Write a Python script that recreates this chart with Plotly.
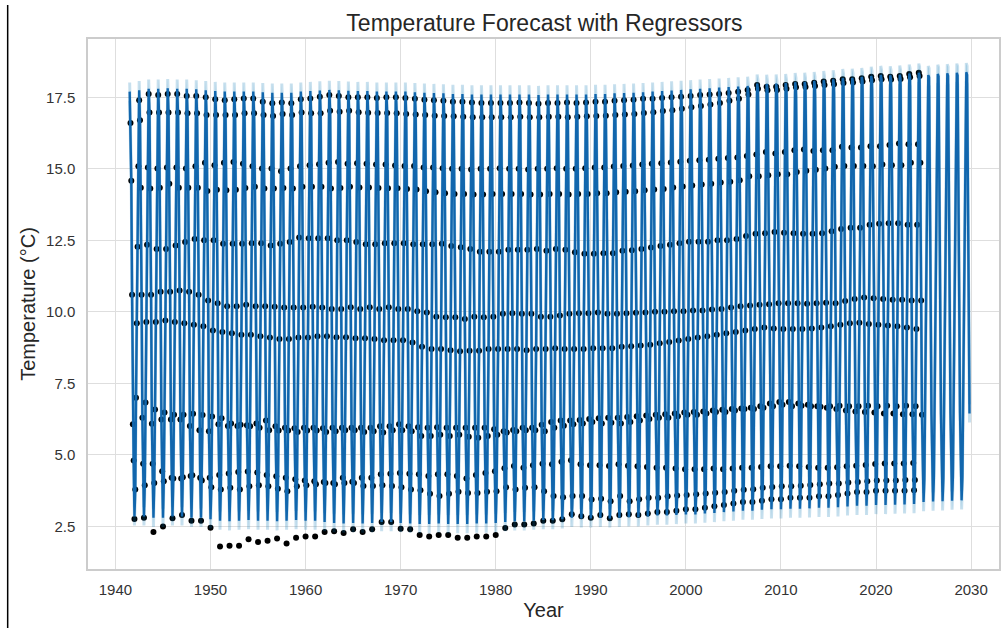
import plotly.graph_objects as go

# ---------------- data ----------------
years = list(range(1941, 2025))  # one entry per year, 1941 .. 2024

# observed monthly temperatures (degC), one value per year; None = no observation
jan = [None,
       2.76, 2.80, 2.30, 2.50, 2.78, 2.90, 2.70, 2.70, 2.45,
       1.80, 1.82, 1.82, 2.05, 1.95, 2.00, 2.08, 1.90, 2.10, 2.15,
       2.15, 2.30, 2.33, 2.27, 2.40, 2.30, 2.40, 2.65, 2.65, 2.42,
       2.40, 2.20, 2.15, 2.20, 2.20, 2.10, 2.10, 2.15, 2.15, 2.20,
       2.44, 2.57, 2.57, 2.60, 2.70, 2.70, 2.75, 2.92, 2.85, 2.80,
       2.90, 2.78, 2.90, 2.92, 2.90, 2.95, 3.00, 3.00, 3.05, 3.10,
       3.10, 3.15, 3.20, 3.25, 3.30, 3.35, 3.35, 3.40, 3.45, 3.45,
       3.50, 3.50, 3.50, 3.55, 3.55, 3.60, 3.65, 3.70, 3.70, 3.75,
       3.75, 3.75, 3.75, 3.76]
feb = [None,
       3.79, 3.94, 4.02, 4.08, 4.17, 4.22, 4.29, 4.10, 3.87,
       3.79, 3.85, 3.79, 3.90, 3.94, 3.90, 3.82, 3.73, 3.90, 3.94,
       3.97, 4.02, 3.97, 4.02, 4.02, 3.91, 3.91, 3.94, 3.91, 3.87,
       3.79, 3.76, 3.64, 3.56, 3.64, 3.71, 3.67, 3.67, 3.71, 3.73,
       3.87, 3.79, 3.85, 3.87, 3.73, 3.56, 3.52, 3.56, 3.56, 3.44,
       3.47, 3.38, 3.56, 3.38, 3.45, 3.50, 3.50, 3.55, 3.58, 3.60,
       3.62, 3.65, 3.68, 3.70, 3.75, 3.78, 3.80, 3.85, 3.88, 3.90,
       3.90, 3.92, 3.95, 3.97, 4.00, 4.00, 4.03, 4.05, 4.08, 4.10,
       4.10, 4.10, 4.12, 4.12]
mar = [None,
       7.00, 6.83, 6.59, 6.48, 6.40, 6.40, 6.44, 6.39, 6.34,
       6.28, 6.10, 6.05, 6.00, 5.95, 5.86, 5.85, 5.85, 5.80, 5.85,
       5.85, 5.80, 5.83, 5.86, 5.86, 5.80, 5.83, 5.78, 5.86, 5.86,
       5.83, 5.66, 5.66, 5.70, 5.66, 5.70, 5.63, 5.60, 5.66, 5.70,
       5.78, 5.83, 5.86, 5.86, 5.83, 5.95, 6.02, 6.07, 6.10, 6.15,
       6.10, 6.12, 6.10, 6.15, 6.20, 6.25, 6.30, 6.30, 6.35, 6.40,
       6.40, 6.45, 6.50, 6.50, 6.55, 6.60, 6.60, 6.65, 6.70, 6.75,
       6.70, 6.72, 6.70, 6.68, 6.70, 6.72, 6.70, 6.70, 6.72, 6.70,
       6.72, 6.70, 6.72, 6.70]
apr = [None,
       9.60, 9.65, 9.65, 9.70, 9.65, 9.60, 9.55, 9.50, 9.35,
       9.30, 9.25, 9.20, 9.20, 9.15, 9.10, 9.05, 9.05, 9.10, 9.10,
       9.15, 9.15, 9.11, 9.11, 9.08, 9.08, 9.05, 9.01, 9.01, 9.01,
       8.93, 8.78, 8.70, 8.70, 8.66, 8.62, 8.64, 8.64, 8.70, 8.70,
       8.70, 8.70, 8.66, 8.70, 8.70, 8.73, 8.70, 8.70, 8.70, 8.73,
       8.73, 8.73, 8.78, 8.80, 8.82, 8.85, 8.90, 8.95, 9.00, 9.05,
       9.10, 9.15, 9.20, 9.25, 9.30, 9.35, 9.40, 9.45, 9.42, 9.40,
       9.40, 9.40, 9.42, 9.45, 9.50, 9.55, 9.60, 9.62, 9.58, 9.55,
       9.52, 9.50, 9.45, 9.40]
may = [None,
       12.28, 12.35, 12.20, 12.20, 12.32, 12.44, 12.55, 12.50, 12.50,
       12.38, 12.38, 12.38, 12.40, 12.40, 12.32, 12.38, 12.44, 12.60, 12.57,
       12.57, 12.57, 12.50, 12.50, 12.44, 12.36, 12.36, 12.40, 12.40, 12.40,
       12.36, 12.36, 12.36, 12.38, 12.30, 12.26, 12.20, 12.10, 12.10, 12.10,
       12.17, 12.17, 12.17, 12.20, 12.14, 12.20, 12.17, 12.08, 12.03, 12.03,
       12.05, 12.05, 12.14, 12.15, 12.20, 12.25, 12.30, 12.35, 12.40, 12.45,
       12.45, 12.45, 12.50, 12.50, 12.55, 12.65, 12.73, 12.75, 12.79, 12.77,
       12.75, 12.73, 12.73, 12.75, 12.82, 12.90, 12.94, 12.94, 13.05, 13.08,
       13.10, 13.10, 13.05, 13.05]
jun = [None,
       15.09, 15.05, 15.01, 15.05, 15.05, 15.01, 15.09, 15.21, 15.13,
       15.21, 15.24, 15.18, 15.09, 15.01, 15.01, 14.92, 15.01, 15.09, 15.13,
       15.16, 15.21, 15.24, 15.18, 15.20, 15.18, 15.15, 15.15, 15.12, 15.10,
       15.10, 15.05, 15.05, 15.02, 15.00, 15.00, 14.98, 15.00, 15.00, 15.02,
       15.00, 15.00, 14.98, 15.00, 15.00, 15.02, 15.00, 15.00, 15.02, 15.05,
       15.05, 15.08, 15.10, 15.12, 15.15, 15.18, 15.20, 15.22, 15.25, 15.28,
       15.30, 15.32, 15.35, 15.38, 15.40, 15.45, 15.50, 15.59, 15.54, 15.59,
       15.65, 15.68, 15.62, 15.65, 15.65, 15.77, 15.75, 15.75, 15.79, 15.79,
       15.83, 15.89, 15.86, 15.86]
jul = [None,
       17.40, 17.62, 17.58, 17.62, 17.62, 17.55, 17.55, 17.50, 17.43,
       17.40, 17.43, 17.46, 17.46, 17.35, 17.29, 17.32, 17.29, 17.43, 17.46,
       17.52, 17.58, 17.55, 17.50, 17.50, 17.50, 17.48, 17.50, 17.50, 17.48,
       17.45, 17.42, 17.40, 17.38, 17.35, 17.35, 17.32, 17.30, 17.30, 17.30,
       17.30, 17.32, 17.30, 17.28, 17.30, 17.30, 17.32, 17.30, 17.32, 17.35,
       17.35, 17.38, 17.40, 17.42, 17.45, 17.45, 17.48, 17.50, 17.52, 17.55,
       17.58, 17.60, 17.62, 17.65, 17.70, 17.76, 17.93, 17.87, 17.87, 17.93,
       17.97, 17.97, 18.01, 18.05, 18.08, 18.13, 18.13, 18.17, 18.22, 18.25,
       18.22, 18.25, 18.32, 18.36]
aug = [16.60,
       16.70, 16.97, 16.97, 16.97, 16.97, 16.94, 16.94, 16.88, 16.88,
       16.88, 16.88, 16.94, 16.94, 16.88, 16.85, 16.92, 16.88, 16.97, 16.94,
       16.94, 17.03, 17.00, 17.03, 16.98, 16.96, 16.95, 16.95, 16.94, 16.92,
       16.90, 16.88, 16.86, 16.85, 16.84, 16.82, 16.80, 16.80, 16.80, 16.80,
       16.80, 16.82, 16.80, 16.80, 16.82, 16.82, 16.80, 16.82, 16.84, 16.85,
       16.86, 16.88, 16.90, 16.92, 16.95, 16.98, 17.02, 17.05, 17.10, 17.15,
       17.20, 17.25, 17.30, 17.38, 17.45, 17.60, 17.80, 17.75, 17.76, 17.80,
       17.85, 17.86, 17.90, 17.93, 17.96, 18.00, 18.02, 18.05, 18.10, 18.13,
       18.12, 18.14, 18.20, 18.25]
sep = [14.58,
       14.34, 14.31, 14.34, 14.48, 14.34, 14.34, 14.34, 14.23, 14.27,
       14.25, 14.27, 14.33, 14.37, 14.31, 14.31, 14.33, 14.31, 14.37, 14.37,
       14.37, 14.31, 14.33, 14.37, 14.35, 14.35, 14.33, 14.32, 14.32, 14.30,
       14.28, 14.22, 14.18, 14.15, 14.12, 14.12, 14.10, 14.10, 14.12, 14.12,
       14.12, 14.12, 14.10, 14.10, 14.12, 14.12, 14.10, 14.12, 14.12, 14.15,
       14.15, 14.18, 14.20, 14.22, 14.25, 14.28, 14.30, 14.35, 14.38, 14.42,
       14.45, 14.48, 14.52, 14.55, 14.60, 14.74, 14.74, 14.78, 14.81, 14.81,
       14.89, 14.93, 14.97, 15.01, 15.07, 15.10, 15.10, 15.10, 15.09, 15.15,
       15.13, 15.13, 15.21, 15.21]
oct_ = [10.60,
        10.60, 10.60, 10.70, 10.70, 10.75, 10.70, 10.60, 10.40, 10.30,
        10.20, 10.20, 10.25, 10.20, 10.20, 10.18, 10.15, 10.15, 10.15, 10.18,
        10.15, 10.10, 10.10, 10.16, 10.10, 10.16, 10.10, 10.16, 10.10, 10.10,
        10.02, 9.98, 9.83, 9.81, 9.81, 9.75, 9.83, 9.81, 9.83, 9.93,
        9.95, 9.93, 9.93, 9.83, 9.83, 9.87, 9.93, 9.95, 9.95, 9.98,
        9.93, 9.93, 9.95, 9.97, 9.98, 10.00, 10.00, 10.02, 10.02, 10.05,
        10.05, 10.08, 10.10, 10.15, 10.20, 10.22, 10.25, 10.27, 10.30, 10.30,
        10.30, 10.28, 10.30, 10.32, 10.30, 10.38, 10.45, 10.50, 10.48, 10.45,
        10.42, 10.42, 10.40, 10.40]
nov = [6.07,
       6.30, 6.09, 6.24, 6.24, 6.24, 6.01, 5.86, 5.83, 6.07,
       6.01, 6.01, 6.04, 6.10, 6.20, 6.00, 5.95, 5.93, 5.95, 5.95,
       5.93, 5.95, 5.95, 5.95, 5.95, 5.95, 6.00, 6.00, 6.07, 6.00,
       5.97, 5.95, 5.97, 5.95, 5.95, 5.95, 5.95, 5.95, 5.90, 5.83,
       5.87, 5.95, 5.95, 6.05, 6.15, 6.20, 6.20, 6.22, 6.25, 6.28,
       6.30, 6.30, 6.32, 6.35, 6.38, 6.40, 6.42, 6.45, 6.48, 6.50,
       6.52, 6.55, 6.58, 6.60, 6.62, 6.65, 6.70, 6.80, 6.85, 6.85,
       6.80, 6.75, 6.70, 6.65, 6.60, 6.55, 6.52, 6.50, 6.48, 6.45,
       6.45, 6.42, 6.42, 6.40]
dec = [4.80,
       4.69, 4.69, 4.43, 4.20, 4.17, 4.26, 4.20, 4.20, 4.30,
       4.35, 4.40, 4.42, 4.38, 4.30, 4.25, 4.20, 4.15, 4.10, 4.08,
       4.05, 4.02, 4.20, 4.06, 4.20, 4.20, 4.32, 4.34, 4.37, 4.34,
       4.32, 4.26, 4.32, 4.32, 4.26, 4.17, 4.30, 4.37, 4.43, 4.53,
       4.61, 4.55, 4.64, 4.69, 4.67, 4.76, 4.81, 4.67, 4.64, 4.64,
       4.61, 4.67, 4.62, 4.60, 4.58, 4.55, 4.55, 4.52, 4.50, 4.50,
       4.50, 4.52, 4.50, 4.52, 4.55, 4.55, 4.58, 4.60, 4.60, 4.62,
       4.60, 4.58, 4.55, 4.55, 4.57, 4.60, 4.62, 4.65, 4.68, 4.70,
       4.70, 4.70, 4.72, None]

# fitted (model) values where the line visibly departs from the dots:
# yearly troughs (January) and peaks (July)
fit_jan = [None,
           2.85, 2.85, 2.80, 2.80, 2.85, 2.85, 2.80, 2.80, 2.75,
           2.70, 2.68, 2.70, 2.72, 2.70, 2.70, 2.68, 2.70, 2.72, 2.70,
           2.70, 2.65, 2.62, 2.60, 2.62, 2.60, 2.62, 2.65, 2.65, 2.62,
           2.60, 2.58, 2.58, 2.60, 2.58, 2.58, 2.58, 2.60, 2.60, 2.62,
           2.65, 2.68, 2.68, 2.70, 2.72, 2.72, 2.75, 2.80, 2.78, 2.78,
           2.80, 2.78, 2.80, 2.82, 2.82, 2.85, 2.88, 2.88, 2.90, 2.92,
           2.92, 2.95, 2.97, 3.00, 3.02, 3.05, 3.05, 3.08, 3.10, 3.10,
           3.12, 3.12, 3.13, 3.15, 3.15, 3.17, 3.20, 3.22, 3.22, 3.25,
           3.25, 3.26, 3.27, 3.28]
fit_jul = [17.70,
           17.75, 17.80, 17.80, 17.82, 17.80, 17.80, 17.78, 17.75, 17.72,
           17.70, 17.70, 17.70, 17.70, 17.68, 17.66, 17.66, 17.66, 17.70, 17.72,
           17.74, 17.76, 17.75, 17.73, 17.72, 17.72, 17.70, 17.70, 17.70, 17.70,
           17.68, 17.66, 17.65, 17.64, 17.62, 17.62, 17.60, 17.60, 17.60, 17.60,
           17.60, 17.60, 17.60, 17.58, 17.60, 17.60, 17.60, 17.60, 17.60, 17.62,
           17.62, 17.64, 17.65, 17.66, 17.68, 17.70, 17.72, 17.74, 17.76, 17.78,
           17.80, 17.82, 17.84, 17.86, 17.88, 17.90, 17.98, 17.97, 17.98, 18.00,
           18.03, 18.04, 18.07, 18.10, 18.13, 18.17, 18.18, 18.21, 18.25, 18.28,
           18.27, 18.29, 18.33, 18.36]

# forecast, monthly from Dec 2024 to Nov 2029
forecast_start = (2024, 12)
forecast_values = [
    4.72,
    3.35, 4.15, 6.72, 9.45, 13.05, 15.88, 18.28, 18.20, 15.22, 10.42, 6.42, 4.73,
    3.37, 4.17, 6.74, 9.47, 13.07, 15.90, 18.32, 18.23, 15.24, 10.44, 6.44, 4.75,
    3.38, 4.18, 6.75, 9.48, 13.08, 15.92, 18.34, 18.25, 15.26, 10.46, 6.46, 4.76,
    3.40, 4.20, 6.77, 9.50, 13.10, 15.93, 18.36, 18.27, 15.27, 10.47, 6.47, 4.78,
    3.41, 4.21, 6.78, 9.51, 13.11, 15.95, 18.38, 18.28, 15.29, 10.49, 6.45,
]
interval_halfwidth = 0.32  # half-width of the uncertainty band

y_ticks = [2.5, 5.0, 7.5, 10.0, 12.5, 15.0, 17.5]
x_tick_years = [1940, 1950, 1960, 1970, 1980, 1990, 2000, 2010, 2020, 2030]

# ---------------- build series ----------------
obs_by_month = [jan, feb, mar, apr, may, jun, jul, aug, sep, oct_, nov, dec]

obs_x, obs_y = [], []
fit_x, fit_y = [], []
for i, yr in enumerate(years):
    for m, arr in enumerate(obs_by_month, start=1):
        d = f"{yr}-{m:02d}-01"
        v = arr[i]
        if v is not None:
            obs_x.append(d)
            obs_y.append(v)
        if m == 1:
            f = fit_jan[i]
        elif m == 7:
            f = fit_jul[i]
        else:
            f = v
        if f is not None:
            fit_x.append(d)
            fit_y.append(f)

yr, m = forecast_start
for v in forecast_values:
    fit_x.append(f"{yr}-{m:02d}-01")
    fit_y.append(v)
    m += 1
    if m > 12:
        m = 1
        yr += 1

upper = [v + interval_halfwidth for v in fit_y]
lower = [v - interval_halfwidth for v in fit_y]

LINE_BLUE = "#1166ad"
BAND = "rgba(0,114,178,0.22)"
FONT = "Liberation Sans, Arial, Helvetica, sans-serif"

fig = go.Figure()
fig.add_trace(go.Scatter(x=obs_x, y=obs_y, mode="markers",
                         marker=dict(color="black", size=6),
                         name="Observed", showlegend=False))
fig.add_trace(go.Scatter(x=fit_x, y=upper, mode="lines",
                         line=dict(width=3, color=BAND),
                         showlegend=False, hoverinfo="skip"))
fig.add_trace(go.Scatter(x=fit_x, y=lower, mode="lines",
                         line=dict(width=3, color=BAND),
                         fill="tonexty", fillcolor=BAND,
                         showlegend=False, hoverinfo="skip"))
fig.add_trace(go.Scatter(x=fit_x, y=fit_y, mode="lines",
                         line=dict(color=LINE_BLUE, width=2.4),
                         name="Forecast", showlegend=False))

L, R, T, B = 88, 2, 39, 59
W, H = 1003, 628
pw, ph = W - L - R, H - T - B

fig.update_layout(
    width=W, height=H,
    margin=dict(l=L, r=R, t=T, b=B),
    paper_bgcolor="white", plot_bgcolor="white",
    font=dict(family=FONT, color="#262626"),
    title=dict(text="Temperature Forecast with Regressors",
               x=(L + pw / 2) / W, xanchor="center",
               y=1 - 23 / H, yanchor="middle",
               font=dict(size=23, color="#262626", family=FONT)),
    xaxis=dict(
        type="date",
        range=["1937-02-11", "2032-12-08"],
        tickvals=[f"{y}-01-01" for y in x_tick_years],
        ticktext=[str(y) for y in x_tick_years],
        showgrid=True, gridcolor="#dedede", gridwidth=1,
        showline=True, linecolor="#cccccc", linewidth=1.5, mirror=True,
        zeroline=False,
        ticks="outside", ticklen=6, tickcolor="rgba(0,0,0,0)",
        tickfont=dict(size=15, color="#333333", family=FONT),
        title=dict(text="Year", font=dict(size=20, color="#262626", family=FONT),
                   standoff=6),
    ),
    yaxis=dict(
        range=[1.01, 19.54],
        tickvals=y_ticks,
        ticktext=[f"{v:.1f}" for v in y_ticks],
        showgrid=True, gridcolor="#dedede", gridwidth=1,
        showline=True, linecolor="#cccccc", linewidth=1.5, mirror=True,
        zeroline=False,
        ticks="outside", ticklen=8, tickcolor="rgba(0,0,0,0)",
        tickfont=dict(size=15, color="#333333", family=FONT),
        title=dict(text="Temperature (°C)", font=dict(size=20, color="#262626", family=FONT),
                   standoff=5),
    ),
    shapes=[dict(type="line", xref="paper", yref="paper",
                 x0=(7.5 - L) / pw, x1=(7.5 - L) / pw,
                 y0=(H - B - 5) / ph, y1=(H - B - H) / ph,
                 line=dict(color="black", width=1.5))],
)

fig.write_html("out.html")
